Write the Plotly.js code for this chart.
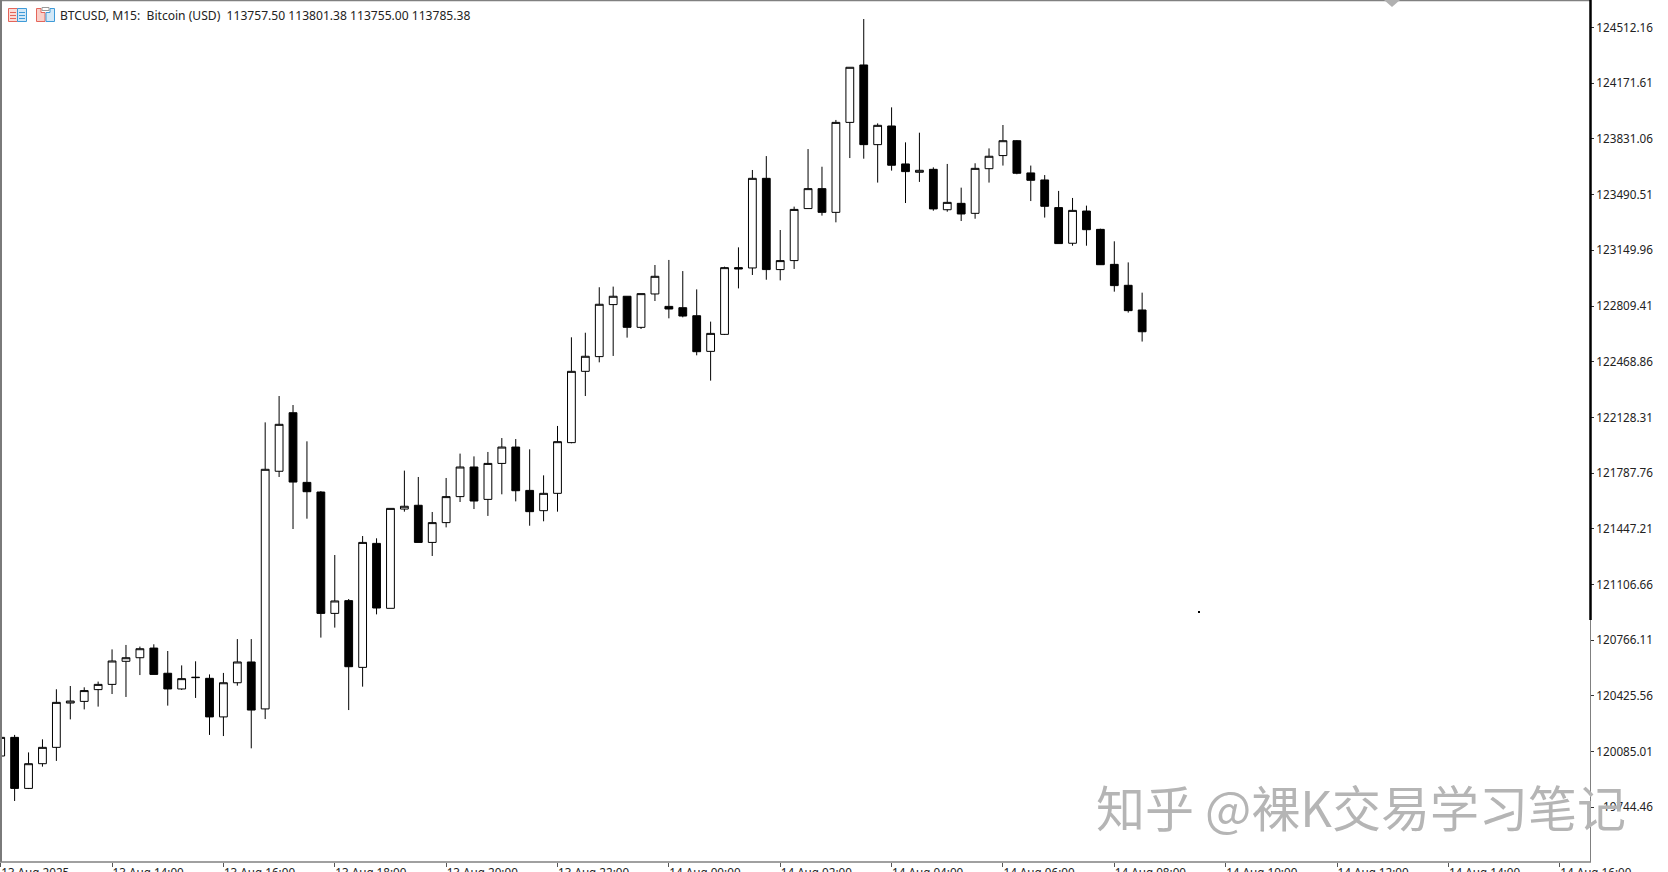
<!DOCTYPE html>
<html>
<head>
<meta charset="utf-8">
<script src="https://cdn.plot.ly/plotly-3.0.1.min.js"></script>
<style>html,body{margin:0;padding:0;background:#fff;overflow:hidden}#c{width:1668px;height:872px}</style>
</head>
<body>
<div id="c"></div>
<script>
const times = [
"2025-08-13 12:00","2025-08-13 12:15","2025-08-13 12:30","2025-08-13 12:45","2025-08-13 13:00","2025-08-13 13:15","2025-08-13 13:30","2025-08-13 13:45",
"2025-08-13 14:00","2025-08-13 14:15","2025-08-13 14:30","2025-08-13 14:45","2025-08-13 15:00","2025-08-13 15:15","2025-08-13 15:30","2025-08-13 15:45",
"2025-08-13 16:00","2025-08-13 16:15","2025-08-13 16:30","2025-08-13 16:45","2025-08-13 17:00","2025-08-13 17:15","2025-08-13 17:30","2025-08-13 17:45",
"2025-08-13 18:00","2025-08-13 18:15","2025-08-13 18:30","2025-08-13 18:45","2025-08-13 19:00","2025-08-13 19:15","2025-08-13 19:30","2025-08-13 19:45",
"2025-08-13 20:00","2025-08-13 20:15","2025-08-13 20:30","2025-08-13 20:45","2025-08-13 21:00","2025-08-13 21:15","2025-08-13 21:30","2025-08-13 21:45",
"2025-08-13 22:00","2025-08-13 22:15","2025-08-13 22:30","2025-08-13 22:45","2025-08-13 23:00","2025-08-13 23:15","2025-08-13 23:30","2025-08-13 23:45",
"2025-08-14 00:00","2025-08-14 00:15","2025-08-14 00:30","2025-08-14 00:45","2025-08-14 01:00","2025-08-14 01:15","2025-08-14 01:30","2025-08-14 01:45",
"2025-08-14 02:00","2025-08-14 02:15","2025-08-14 02:30","2025-08-14 02:45","2025-08-14 03:00","2025-08-14 03:15","2025-08-14 03:30","2025-08-14 03:45",
"2025-08-14 04:00","2025-08-14 04:15","2025-08-14 04:30","2025-08-14 04:45","2025-08-14 05:00","2025-08-14 05:15","2025-08-14 05:30","2025-08-14 05:45",
"2025-08-14 06:00","2025-08-14 06:15","2025-08-14 06:30","2025-08-14 06:45","2025-08-14 07:00","2025-08-14 07:15","2025-08-14 07:30","2025-08-14 07:45",
"2025-08-14 08:00","2025-08-14 08:15","2025-08-14 08:30"];

const opens = [120058,120172,119860,120011,120111,120382,120392,120464,120496,120637,120659,120718,120564,120468,120537,120533,
120297,120506,120633,120346,121799,122157,121731,121672,120930,121008,120600,121358,120961,121568,121591,121364,
121485,121644,121825,121627,121847,121947,121682,121558,121664,121974,122410,122500,122818,122869,122679,122883,
122807,122799,122750,122532,122636,123044,123042,123590,123032,123087,123405,123527,123382,123932,124283,123796,
123910,123678,123627,123645,123398,123437,123376,123649,123729,123820,123623,123580,123411,123193,123390,123278,
123064,122936,122785];
const highs = [120172,120187,120080,120160,120466,120486,120478,120513,120710,120737,120727,120741,120700,120612,120637,120557,
120566,120773,120773,122098,122259,122204,121982,121678,121287,121018,121403,121389,121572,121803,121764,121550,
121758,121907,121890,121917,122002,121996,121933,121774,122076,122618,122646,122924,122928,122869,122885,123060,
123091,123023,122911,122714,123050,123168,123641,123726,123274,123417,123769,123661,123947,124269,124564,123926,
124024,123810,123869,123657,123678,123533,123682,123773,123916,123824,123668,123610,123513,123470,123423,123282,
123205,123076,122891];
const lows = [120058,119783,119856,119993,120028,120282,120343,120360,120437,120419,120553,120557,120366,120462,120413,120187,
120180,120488,120105,120284,121764,121446,121509,120782,120843,120339,120482,120924,120961,121552,121364,121281,
121456,121611,121568,121526,121658,121615,121466,121493,121552,121970,122259,122465,122504,122616,122669,122840,
122734,122740,122508,122353,122632,122917,122999,122970,122966,123036,123405,123362,123321,123714,123710,123564,
123637,123439,123568,123392,123386,123329,123343,123564,123668,123615,123451,123350,123191,123178,123178,123060,
122897,122769,122592];
const closes = [120172,119860,120011,120111,120386,120394,120458,120496,120639,120659,120714,120557,120468,120531,120539,120297,
120506,120633,120339,121811,122086,121733,121674,120930,121006,120604,121364,120963,121572,121585,121364,121485,
121644,121825,121617,121847,121947,121680,121552,121664,121980,122410,122502,122820,122869,122679,122885,122991,
122791,122748,122530,122642,123044,123036,123590,123032,123087,123400,123527,123382,123932,124269,123796,123914,
123670,123631,123639,123403,123443,123372,123651,123725,123820,123621,123578,123419,123191,123394,123276,123062,
122934,122781,122652];

const priceTicks = [124512.16,124171.61,123831.06,123490.51,123149.96,122809.41,122468.86,122128.31,121787.76,121447.21,121106.66,120766.11,120425.56,120085.01,119744.46];
const priceLabels = ["124512.16","124171.61","123831.06","123490.51","123149.96","122809.41","122468.86","122128.31","121787.76","121447.21","121106.66","120766.11","120425.56","120085.01","119744.46"];
const timeTicks = ["2025-08-13 12:00","2025-08-13 14:00","2025-08-13 16:00","2025-08-13 18:00","2025-08-13 20:00","2025-08-13 22:00","2025-08-14 00:00","2025-08-14 02:00","2025-08-14 04:00","2025-08-14 06:00","2025-08-14 08:00","2025-08-14 10:00","2025-08-14 12:00","2025-08-14 14:00","2025-08-14 16:00"];
const timeLabels = ["13 Aug 2025","13 Aug 14:00","13 Aug 16:00","13 Aug 18:00","13 Aug 20:00","13 Aug 22:00","14 Aug 00:00","14 Aug 02:00","14 Aug 04:00","14 Aug 06:00","14 Aug 08:00","14 Aug 10:00","14 Aug 12:00","14 Aug 14:00","14 Aug 16:00"];

const headerText = "BTCUSD, M15:\u00a0 Bitcoin (USD)\u00a0 113757.50 113801.38 113755.00 113785.38";
const watermark = "知乎 @裸K交易学习笔记";

const W = 1668, H = 872, ML = 0, MR = 78, MT = 1, MB = 10;
const px = x => (x - ML) / (W - ML - MR);
const py = y => 1 - (y - MT) / (H - MT - MB);
const line = (x0, y0, x1, y1, color, width) => ({type: 'line', xref: 'paper', yref: 'paper', x0: px(x0), y0: py(y0), x1: px(x1), y1: py(y1), line: {color, width}});
const rect = (x0, y0, x1, y1, lineColor, fill, width) => ({type: 'rect', xref: 'paper', yref: 'paper', x0: px(x0), y0: py(y0), x1: px(x1), y1: py(y1), line: {color: lineColor, width: width === undefined ? 1 : width}, fillcolor: fill});
const poly = (pts, lineColor, fill, width) => ({type: 'path', xref: 'paper', yref: 'paper', path: 'M' + pts.map(p => px(p[0]) + ',' + py(p[1])).join('L') + 'Z', line: {color: lineColor, width: width === undefined ? 1 : width}, fillcolor: fill});

const red = '#e4655a', blue = '#3f9bd8';
const shapes = [
  line(0.5, 0.5, 1590, 0.5, '#808080', 1.5),
  line(1, 0, 1, 862, '#7a7a7a', 2),
  line(1590.5, 0, 1590.5, 620, '#000000', 2.5),
  line(1590.5, 620, 1590.5, 862, '#808080', 1),
  line(0, 862, 1591, 862, '#808080', 1.5),
  poly([[1384, 0], [1400, 0], [1392, 7]], 'rgba(0,0,0,0)', '#b0b0b0', 0),
  rect(1198, 611, 1200, 613, '#000000', '#000000', 0),
  rect(1595, 800, 1602.5, 815, 'rgba(0,0,0,0)', '#ffffff', 0),
  rect(8.5, 8.5, 17.5, 21.5, red, '#fbdcd7'),
  rect(17.5, 8.5, 26.5, 21.5, blue, '#d3e8f7'),
  line(10, 12.5, 16, 12.5, red, 1), line(10, 15.5, 16, 15.5, red, 1), line(10, 18.5, 16, 18.5, red, 1),
  line(19, 12.5, 25, 12.5, blue, 1), line(19, 15.5, 25, 15.5, blue, 1), line(19, 18.5, 25, 18.5, blue, 1),
  poly([[36.5, 8.5], [41, 8.5], [41, 12.5], [45, 12.5], [45, 21.5], [36.5, 21.5]], red, '#f9cfc9'),
  poly([[46, 21.5], [46, 12.5], [50, 12.5], [50, 8.5], [54.5, 8.5], [54.5, 21.5]], blue, '#d3e8f7'),
  rect(42, 7.5, 49, 10.5, '#9a9a9a', '#ffffff')
];

const baseFont = {family: '"Noto Sans", Tahoma, sans-serif', size: 11.7, color: '#222222'};

Plotly.newPlot('c', [{
  type: 'candlestick',
  x: times, open: opens, high: highs, low: lows, close: closes,
  increasing: {line: {color: '#000000', width: 1}, fillcolor: '#ffffff'},
  decreasing: {line: {color: '#000000', width: 1}, fillcolor: '#000000'},
  whiskerwidth: 0,
  hoverinfo: 'skip',
  showlegend: false
}], {
  width: W, height: H,
  margin: {l: ML, r: MR, t: MT, b: MB, pad: 0},
  paper_bgcolor: '#ffffff', plot_bgcolor: '#ffffff',
  boxgap: 0.2,
  showlegend: false,
  font: baseFont,
  xaxis: {
    type: 'date',
    range: ['2025-08-13 11:59:15', '2025-08-14 16:32:36'],
    rangeslider: {visible: false},
    showgrid: false, zeroline: false, showline: false,
    tickmode: 'array', tickvals: timeTicks, ticktext: timeLabels,
    ticks: 'outside', ticklen: 4, tickwidth: 1, tickcolor: '#555555',
    ticklabelposition: 'outside right',
    tickangle: 0,
    tickfont: baseFont,
    automargin: false
  },
  yaxis: {
    side: 'right',
    range: [119410.0, 124674.2],
    showgrid: false, zeroline: false, showline: false,
    tickmode: 'array', tickvals: priceTicks, ticktext: priceLabels,
    ticks: 'outside', ticklen: 3, tickwidth: 1, tickcolor: '#333333',
    tickfont: baseFont,
    automargin: false
  },
  shapes,
  annotations: [
    {xref: 'paper', yref: 'paper', x: px(58), y: py(16), xanchor: 'left', yanchor: 'middle', text: headerText, showarrow: false, font: Object.assign({}, baseFont, {size: 12.1}), align: 'left'},
    {xref: 'paper', yref: 'paper', x: px(1361), y: py(805), xanchor: 'center', yanchor: 'middle', text: watermark, showarrow: false, font: {family: '"Noto Sans CJK SC", sans-serif', size: 49, color: '#b5b5b5'}}
  ]
}, {displayModeBar: false, staticPlot: true});
</script>
</body>
</html>
